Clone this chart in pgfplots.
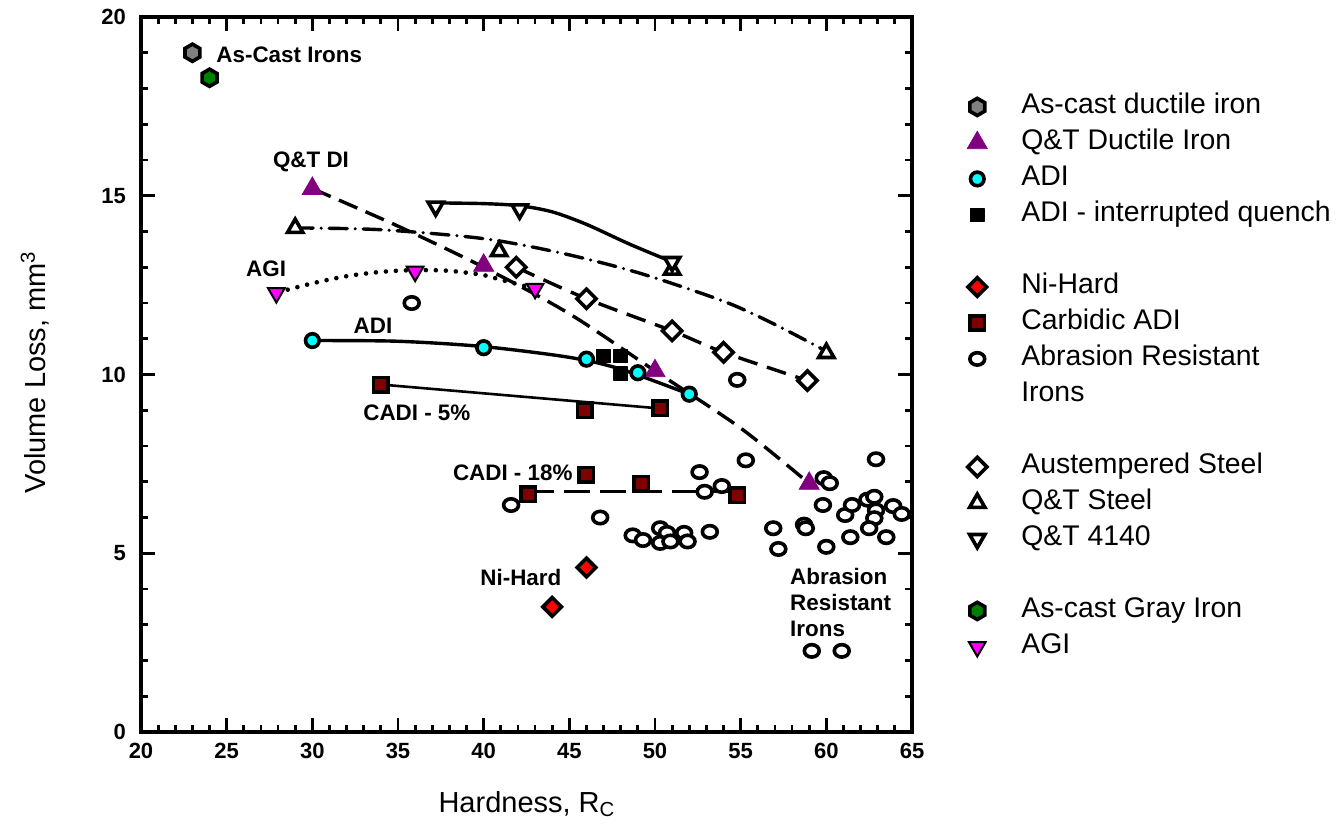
\documentclass[border=0pt]{standalone}
\usepackage{fontspec}
\setmainfont{Liberation Sans}
\usepackage{pgfplots}
\pgfplotsset{compat=1.18}

\definecolor{qtpurple}{rgb}{0.50,0.00,0.50}
\definecolor{adicyan}{rgb}{0.00,1.00,1.00}
\definecolor{cadired}{rgb}{0.50,0.00,0.00}
\definecolor{hexgray}{rgb}{0.50,0.50,0.50}
\definecolor{hexgreen}{rgb}{0.00,0.50,0.00}
\definecolor{agimag}{rgb}{1.00,0.00,1.00}

% hexagon mark, pointy top
\pgfdeclareplotmark{hexagon*}{%
  \pgfpathmoveto{\pgfqpointpolar{90}{\pgfplotmarksize}}%
  \pgfpathlineto{\pgfqpointpolar{150}{\pgfplotmarksize}}%
  \pgfpathlineto{\pgfqpointpolar{210}{\pgfplotmarksize}}%
  \pgfpathlineto{\pgfqpointpolar{270}{\pgfplotmarksize}}%
  \pgfpathlineto{\pgfqpointpolar{330}{\pgfplotmarksize}}%
  \pgfpathlineto{\pgfqpointpolar{30}{\pgfplotmarksize}}%
  \pgfpathclose
  \pgfusepathqfillstroke}

\begin{document}
\begin{tikzpicture}
\path[use as bounding box] (-70.5pt,-47.5pt) rectangle (598pt,366pt);

\begin{axis}[%
width=385.5pt,
height=357.5pt,
scale only axis,
xmin=20, xmax=65,
ymin=0, ymax=20,
xtick={20,25,...,65},
ytick={0,5,...,20},
minor x tick num=4,
minor y tick num=4,
tick align=inside,
xtick pos=both, ytick pos=both,
major tick length=7pt,
minor tick length=3.5pt,
every tick/.style={black, line width=1.4pt},
axis line style={line width=2.2pt},
/pgf/number format/assume math mode=true,
ticklabel style={font=\fontsize{11}{13}\selectfont\bfseries},
xticklabel style={yshift=-2pt},
yticklabel style={xshift=-4pt},
xlabel={Hardness, R\textsubscript{C}},
ylabel={Volume Loss, mm\textsuperscript{3}},
label style={font=\fontsize{14.5}{17}\selectfont},
xlabel style={at={(axis description cs:0.5006,-0.112)}, anchor=base},
ylabel style={at={(axis description cs:-0.1375,0.503)}, anchor=center},
legend cell align=left,
legend style={at={(1.062,0.9)}, anchor=north west, draw=none, fill=none,
  font=\fontsize{14.2}{16}\selectfont, inner sep=0pt, row sep=0pt,
  nodes={text height=10.5pt, text depth=3.5pt, inner ysep=2pt},
  /tikz/every odd column/.append style={column sep=15pt}},
]

% fitted curves
\addplot[forget plot, smooth, line width=1.7pt, dash pattern=on 10pt off 4.5pt]
  coordinates {(30,15.2)(35,14.15)(40,13.0)(45,11.7)(50,10.1)(55,8.5)(59,6.95)};
\addplot[forget plot, smooth, line width=1.7pt, line cap=round, dash pattern=on 9pt off 4pt on 0pt off 4pt]
  coordinates {(29,14.1)(34,14.05)(40,13.8)(44.5,13.4)(49,12.85)(54,12.05)(57,11.4)(60,10.65)};
\addplot[forget plot, smooth, line width=1.7pt]
  coordinates {(37.2,14.8)(40,14.78)(42.1,14.72)(44,14.55)(46,14.2)(48.5,13.65)(51,13.15)};
\addplot[forget plot, smooth, line width=1.7pt, dash pattern=on 10pt off 5pt]
  coordinates {(41.9,13.0)(46,12.12)(51,11.22)(54,10.62)(58.9,9.83)};
\addplot[forget plot, smooth, line width=1.7pt]
  coordinates {(30,10.95)(35,10.93)(40,10.78)(45,10.48)(48,10.15)(52,9.45)};
\addplot[forget plot, smooth, line width=2.3pt, line cap=round, dash pattern=on 0pt off 5pt]
  coordinates {(28,12.3)(30,12.55)(32,12.75)(34,12.87)(36,12.92)(38,12.9)(40,12.78)(41,12.65)(43,12.4)};
\addplot[forget plot, line width=1.3pt]
  coordinates {(34,9.72)(50.3,9.05)};
\addplot[forget plot, line width=1.7pt, dash pattern=on 13pt off 5pt]
  coordinates {(42.6,6.73)(54.8,6.73)};

% data points
\addplot[only marks, mark=hexagon*, mark size=4.3pt, mark options={fill=hexgray, draw=black, line width=1.8pt}]
  coordinates {(23,19.0)};
\addlegendentry{As-cast ductile iron}
\addplot[only marks, mark=triangle*, mark size=5.8pt, mark options={fill=qtpurple, draw=qtpurple, line width=0.4pt}]
  coordinates {(30,15.2)(40,13.05)(50,10.1)(59,6.95)};
\addlegendentry{Q\&T Ductile Iron}
\addplot[only marks, mark=*, mark size=3.4pt, mark options={fill=adicyan, draw=black, line width=1.8pt}]
  coordinates {(30,10.95)(40,10.75)(46,10.43)(49,10.05)(52,9.45)};
\addlegendentry{ADI}
\addplot[only marks, mark=square*, mark size=3.4pt, mark options={fill=black, draw=black, line width=0.6pt, line join=round}]
  coordinates {(47,10.52)(48,10.52)(48,10.02)};
\addlegendentry{ADI - interrupted quench}
\addlegendimage{empty legend}
\addlegendentry{}
\addplot[only marks, mark=square*, mark size=3.3pt, mark options={rotate=45, fill=red, draw=black, line width=1.8pt}]
  coordinates {(46,4.6)(44,3.5)};
\addlegendentry{Ni-Hard}
\addplot[only marks, mark=square*, mark size=3.6pt, mark options={fill=cadired, draw=black, line width=1.8pt}]
  coordinates {(34,9.72)(45.9,9.0)(50.3,9.05)(42.6,6.65)(46,7.2)(49.2,6.95)(54.8,6.62)};
\addlegendentry{Carbidic ADI}
\addplot[only marks, mark=*, mark size=3.1pt, mark options={xscale=1.2, fill=white, draw=black, line width=1.8pt}]
  coordinates {(35.8,12.0)(54.8,9.85)(41.6,6.35)(46.8,6.0)(55.3,7.6)(52.6,7.27)(52.9,6.72)(53.9,6.88)
  (48.7,5.5)(49.3,5.37)(50.3,5.7)(50.7,5.57)(50.3,5.29)(50.9,5.33)(51.7,5.57)(51.9,5.33)(53.2,5.6)
  (56.9,5.7)(57.2,5.12)(58.7,5.8)(58.8,5.7)(60.0,5.18)(59.8,6.35)(59.85,7.1)(60.2,6.96)(62.9,7.63)
  (61.4,5.45)(61.1,6.07)(61.5,6.35)(62.4,6.5)(62.8,6.58)(62.9,6.2)(62.8,5.98)(62.5,5.7)(63.5,5.45)
  (63.9,6.32)(64.4,6.1)(59.15,2.27)(60.9,2.27)};
\addlegendentry{Abrasion Resistant}
\addlegendimage{empty legend}
\addlegendentry{Irons}
\addlegendimage{empty legend}
\addlegendentry{}
\addplot[only marks, mark=square*, mark size=3.4pt, mark options={rotate=45, fill=white, draw=black, line width=1.8pt}]
  coordinates {(41.9,13.0)(46,12.12)(51,11.22)(54,10.62)(58.9,9.83)};
\addlegendentry{Austempered Steel}
\addplot[only marks, mark=triangle*, mark size=4.4pt, mark options={fill=white, draw=black, line width=1.8pt}]
  coordinates {(29,14.1)(40.9,13.45)(51,12.93)(60,10.6)};
\addlegendentry{Q\&T Steel}
\addplot[only marks, mark=triangle*, mark size=4.4pt, mark options={rotate=180, fill=white, draw=black, line width=1.8pt}]
  coordinates {(37.2,14.7)(42.1,14.62)(51,13.15)};
\addlegendentry{Q\&T 4140}
\addlegendimage{empty legend}
\addlegendentry{}
\addplot[only marks, mark=hexagon*, mark size=4.3pt, mark options={fill=hexgreen, draw=black, line width=1.8pt}]
  coordinates {(24,18.3)};
\addlegendentry{As-cast Gray Iron}
\addplot[only marks, mark=triangle*, mark size=4.8pt, mark options={rotate=180, fill=agimag, draw=black, line width=1pt}]
  coordinates {(27.9,12.28)(36,12.88)(43,12.4)};
\addlegendentry{AGI}

% annotations
\begin{scope}[every node/.style={font=\fontsize{11.2}{13}\selectfont\bfseries, inner sep=0pt}]
\node[anchor=west] at (axis cs:24.38,18.94) {As-Cast Irons};
\node at (axis cs:29.92,15.94) {Q\&T DI};
\node at (axis cs:27.3,12.95) {AGI};
\node at (axis cs:33.54,11.36) {ADI};
\node at (axis cs:36.1,8.92) {CADI - 5\%};
\node at (axis cs:41.7,7.24) {CADI - 18\%};
\node at (axis cs:42.17,4.31) {Ni-Hard};
\node[anchor=north west, align=left] at (axis cs:57.87,4.6) {Abrasion\\Resistant\\Irons};
\end{scope}

\end{axis}
\end{tikzpicture}
\end{document}
